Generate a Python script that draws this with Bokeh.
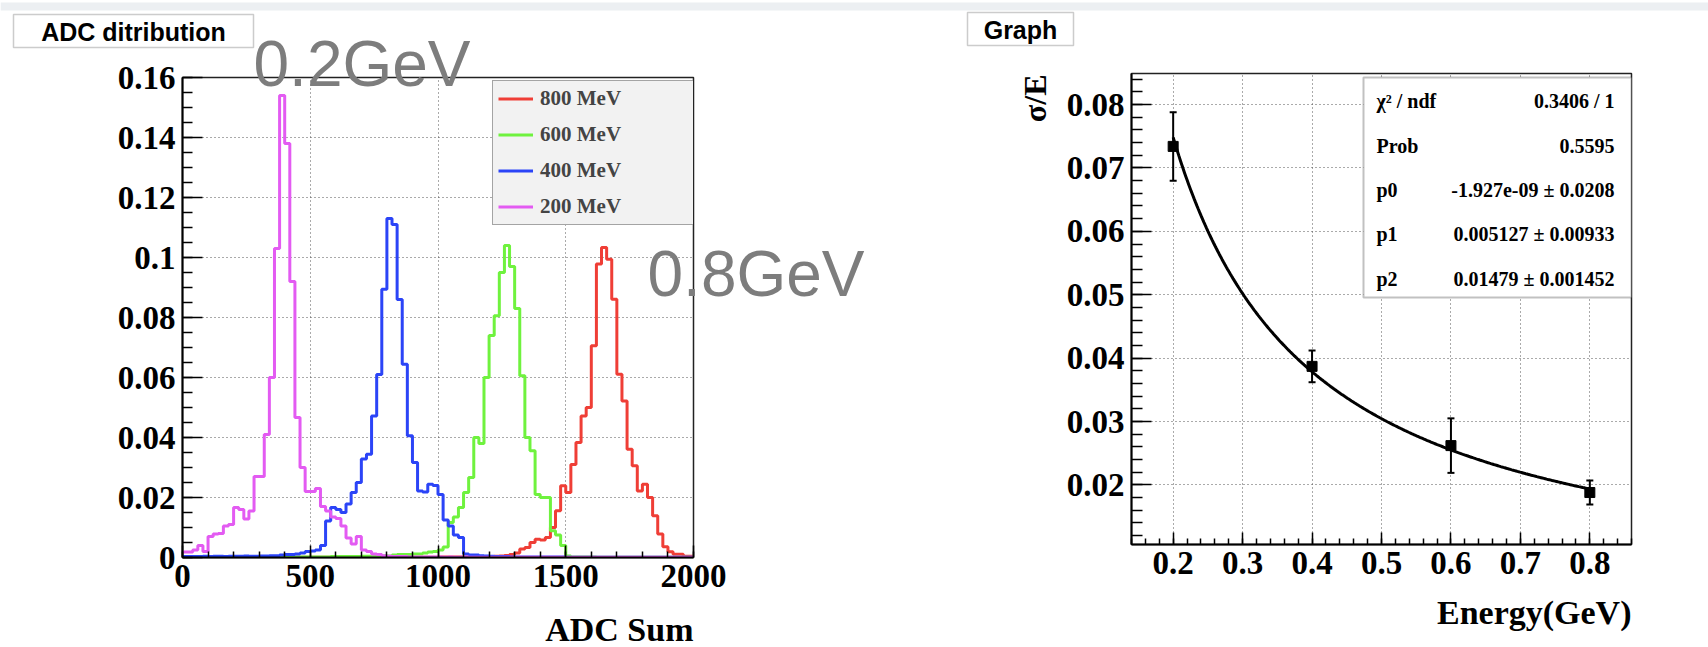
import numpy as np
from bokeh.plotting import figure
from bokeh.models import (Label, BoxAnnotation, Legend, LegendItem, FixedTicker,
                          Range1d, GridBox)
from bokeh.embed import file_html
from bokeh.resources import INLINE

# ---------------- data: left panel (normalised ADC histograms, 100 bins of 20) ----
adc_edges = list(range(0, 2001, 20))

h200 = [0.0018, 0.0018, 0.0025, 0.0040, 0.0020, 0.0070, 0.0078, 0.0080, 0.0105, 0.0110,
        0.0167, 0.0160, 0.0128, 0.0155, 0.0270, 0.0270, 0.0410, 0.0600, 0.1030, 0.1540,
        0.1380, 0.0920, 0.0467, 0.0300, 0.0220, 0.0220, 0.0230, 0.0170, 0.0155, 0.0135,
        0.0130, 0.0105, 0.0065, 0.0045, 0.0070, 0.0025, 0.0020, 0.0012, 0.0010, 0.0006,
        0.0004, 0.0003, 0.0003, 0.0003, 0.0002, 0.0002, 0.0002, 0.0002, 0.0002, 0.0002,
        0.0002, 0.0001, 0.0002, 0.0001, 0.0001, 0.0002, 0.0001, 0.0001, 0.0001, 0.0001,
        0.0001, 0.0001, 0.0001, 0.0001, 0.0001, 0.0001, 0.0001, 0.0001, 0.0001, 0.0001,
        0.0001, 0.0001, 0.0001, 0.0001, 0.0001, 0.0001, 0.0001, 0.0001, 0.0001, 0.0001,
        0.0001, 0.0001, 0.0001, 0.0001, 0.0001, 0.0001, 0.0001, 0.0001, 0.0001, 0.0001,
        0.0001, 0.0001, 0.0001, 0.0001, 0.0001, 0.0001, 0.0001, 0.0001, 0.0001, 0.0001]

h400 = [0.0003, 0.0003, 0.0003, 0.0003, 0.0004, 0.0003, 0.0004, 0.0004, 0.0003, 0.0004,
        0.0004, 0.0004, 0.0005, 0.0004, 0.0004, 0.0005, 0.0005, 0.0006, 0.0006, 0.0008,
        0.0010, 0.0010, 0.0012, 0.0015, 0.0020, 0.0022, 0.0025, 0.0040, 0.0122, 0.0167,
        0.0160, 0.0150, 0.0178, 0.0217, 0.0250, 0.0328, 0.0344, 0.0472, 0.0610, 0.0894,
        0.1130, 0.1110, 0.0860, 0.0644, 0.0406, 0.0317, 0.0222, 0.0218, 0.0244, 0.0240,
        0.0210, 0.0125, 0.0105, 0.0075, 0.0067, 0.0012, 0.0008, 0.0008, 0.0006, 0.0005,
        0.0004, 0.0003, 0.0003, 0.0003, 0.0002, 0.0002, 0.0002, 0.0002, 0.0002, 0.0002,
        0.0002, 0.0002, 0.0002, 0.0002, 0.0002, 0.0001, 0.0001, 0.0001, 0.0001, 0.0001,
        0.0001, 0.0001, 0.0001, 0.0001, 0.0001, 0.0001, 0.0001, 0.0001, 0.0001, 0.0001,
        0.0001, 0.0001, 0.0001, 0.0001, 0.0001, 0.0001, 0.0001, 0.0001, 0.0001, 0.0001]

h600 = [0.0001, 0.0001, 0.0001, 0.0001, 0.0001, 0.0001, 0.0001, 0.0001, 0.0001, 0.0001,
        0.0001, 0.0001, 0.0001, 0.0001, 0.0001, 0.0001, 0.0001, 0.0001, 0.0001, 0.0002,
        0.0002, 0.0002, 0.0002, 0.0002, 0.0002, 0.0002, 0.0002, 0.0002, 0.0002, 0.0003,
        0.0003, 0.0003, 0.0003, 0.0003, 0.0003, 0.0004, 0.0004, 0.0004, 0.0005, 0.0005,
        0.0005, 0.0008, 0.0010, 0.0010, 0.0010, 0.0012, 0.0012, 0.0015, 0.0018, 0.0020,
        0.0025, 0.0035, 0.0117, 0.0135, 0.0167, 0.0217, 0.0267, 0.0400, 0.0380, 0.0600,
        0.0740, 0.0806, 0.0950, 0.1040, 0.0970, 0.0830, 0.0606, 0.0400, 0.0356, 0.0210,
        0.0200, 0.0200, 0.0089, 0.0075, 0.0040, 0.0005, 0.0002, 0.0002, 0.0002, 0.0002,
        0.0002, 0.0001, 0.0001, 0.0001, 0.0001, 0.0001, 0.0001, 0.0001, 0.0001, 0.0001,
        0.0001, 0.0001, 0.0001, 0.0001, 0.0001, 0.0001, 0.0001, 0.0001, 0.0001, 0.0001]

h800 = [0.0001, 0.0001, 0.0001, 0.0001, 0.0001, 0.0001, 0.0001, 0.0001, 0.0001, 0.0001,
        0.0001, 0.0001, 0.0001, 0.0001, 0.0001, 0.0001, 0.0001, 0.0001, 0.0001, 0.0001,
        0.0001, 0.0001, 0.0001, 0.0001, 0.0001, 0.0001, 0.0001, 0.0001, 0.0001, 0.0001,
        0.0001, 0.0001, 0.0001, 0.0001, 0.0001, 0.0001, 0.0001, 0.0001, 0.0001, 0.0001,
        0.0001, 0.0001, 0.0001, 0.0001, 0.0001, 0.0001, 0.0001, 0.0001, 0.0001, 0.0001,
        0.0002, 0.0002, 0.0002, 0.0002, 0.0002, 0.0002, 0.0002, 0.0002, 0.0002, 0.0002,
        0.0003, 0.0004, 0.0005, 0.0007, 0.0010, 0.0015, 0.0028, 0.0033, 0.0050, 0.0061,
        0.0058, 0.0067, 0.0100, 0.0156, 0.0239, 0.0217, 0.0310, 0.0383, 0.0472, 0.0500,
        0.0706, 0.0978, 0.1033, 0.0994, 0.0861, 0.0611, 0.0522, 0.0361, 0.0306, 0.0222,
        0.0244, 0.0200, 0.0139, 0.0078, 0.0036, 0.0019, 0.0011, 0.0011, 0.0004, 0.0004]

legend_labels = ["800 MeV", "600 MeV", "400 MeV", "200 MeV"]
hist_colors = ["#ef3e36", "#6ff23e", "#2b44f7", "#e35bf2"]

left_xticks = [0, 500, 1000, 1500, 2000]
left_xtick_labels = ["0", "500", "1000", "1500", "2000"]
left_yticks = [0, 0.02, 0.04, 0.06, 0.08, 0.1, 0.12, 0.14, 0.16]
left_ytick_labels = ["0", "0.02", "0.04", "0.06", "0.08", "0.1", "0.12", "0.14", "0.16"]

# ---------------- data: right panel (resolution graph) ----------------------------
energy_gev = [0.2, 0.4, 0.6, 0.8]
sigma_over_e = [0.0734, 0.0387, 0.0262, 0.0188]
sigma_err = [0.0054, 0.0025, 0.0043, 0.0019]
fit_p0, fit_p1, fit_p2 = -1.927e-09, 0.005127, 0.01479
stat_names = ["\u03c7\u00b2 / ndf", "Prob", "p0", "p1", "p2"]
stat_values = ["0.3406 / 1", "0.5595", "-1.927e-09 \u00b1 0.0208",
               "0.005127 \u00b1 0.00933", "0.01479 \u00b1 0.001452"]

right_xticks = [0.2, 0.3, 0.4, 0.5, 0.6, 0.7, 0.8]
right_xtick_labels = ["0.2", "0.3", "0.4", "0.5", "0.6", "0.7", "0.8"]
right_yticks = [0.02, 0.03, 0.04, 0.05, 0.06, 0.07, 0.08]
right_ytick_labels = ["0.02", "0.03", "0.04", "0.05", "0.06", "0.07", "0.08"]

SERIF = "Liberation Serif"
SANS = "Liberation Sans"
PAGE_W, PAGE_H = 1708, 647


def style_axes(p, xt, xl, yt, yl, xminor, yminor, ymaj_in, ymin_in, xmaj_in, xmin_in):
    p.xaxis.ticker = FixedTicker(ticks=xt, minor_ticks=xminor)
    p.yaxis.ticker = FixedTicker(ticks=yt, minor_ticks=yminor)
    p.xaxis.major_label_overrides = dict(zip(xt, xl))
    p.yaxis.major_label_overrides = dict(zip(yt, yl))
    for ax, mi, ni in ((p.xaxis[0], xmaj_in, xmin_in), (p.yaxis[0], ymaj_in, ymin_in)):
        ax.axis_line_color = "black"
        ax.axis_line_width = 2
        ax.major_tick_line_color = "black"
        ax.minor_tick_line_color = "black"
        ax.major_tick_line_width = 1.5
        ax.minor_tick_line_width = 1.5
        ax.major_tick_out = 0
        ax.minor_tick_out = 0
        ax.major_tick_in = mi
        ax.minor_tick_in = ni
        ax.major_label_text_font = SERIF
        ax.major_label_text_font_style = "bold"
        ax.major_label_text_font_size = "33px"
        ax.major_label_text_color = "black"
        ax.major_label_standoff = 7
    for g in (p.xgrid[0], p.ygrid[0]):
        g.grid_line_color = "#555555"
        g.grid_line_dash = "1 3"
        g.grid_line_width = 1
    p.outline_line_color = "#222222"
    p.outline_line_width = 1.5
    p.background_fill_color = "white"
    p.border_fill_color = "white"


def no_align(p):
    if "frame_align" in p.properties():
        p.frame_align = False


# ================= LEFT FIGURE =================
L_left, L_w, L_top, L_h = 182, 511, 77, 480
left = figure(output_backend="svg", toolbar_location=None,
              frame_width=L_w, frame_height=L_h,
              min_border_left=L_left, min_border_right=960 - L_left - L_w,
              min_border_top=L_top, min_border_bottom=PAGE_H - L_top - L_h,
              x_range=Range1d(0, 2000), y_range=Range1d(0, 0.16))
no_align(left)

style_axes(left, left_xticks, left_xtick_labels, left_yticks, left_ytick_labels,
           list(range(0, 2001, 100)), [i * 0.005 for i in range(33)],
           20, 10, 12, 6)

series = [h800, h600, h400, h200]
renderers = []
for vals, col in zip(series, hist_colors):
    r = left.step(x=adc_edges, y=vals + [vals[-1]], mode="after",
                  line_color=col, line_width=3)
    renderers.append(r)

legend = Legend(items=[LegendItem(label=lab, renderers=[r])
                       for lab, r in zip(legend_labels, renderers)],
                location=(310, 332))
legend.background_fill_color = "#f2f2f2"
legend.background_fill_alpha = 1.0
legend.border_line_color = "#555555"
legend.border_line_width = 1.5
legend.label_text_font = SERIF
legend.label_text_font_style = "bold"
legend.label_text_font_size = "21px"
legend.glyph_width = 35
legend.glyph_height = 25
legend.label_height = 25
legend.label_width = 151
legend.label_standoff = 7
legend.spacing = 11
legend.padding = 5
legend.margin = 0
left.add_layout(legend)

# ================= RIGHT FIGURE =================
R_off = 960
R_left, R_w, R_top, R_h = 171, 500, 73, 471
R_y0, R_y1 = 0.0106, 0.0849
right = figure(output_backend="svg", toolbar_location=None,
               frame_width=R_w, frame_height=R_h,
               min_border_left=R_left, min_border_right=748 - R_left - R_w,
               min_border_top=R_top, min_border_bottom=PAGE_H - R_top - R_h,
               x_range=Range1d(0.14, 0.86), y_range=Range1d(R_y0, R_y1))
no_align(right)

style_axes(right, right_xticks, right_xtick_labels, right_yticks, right_ytick_labels,
           [0.14 + i * 0.02 for i in range(37)], [0.012 + i * 0.002 for i in range(37)],
           20, 11, 12, 6)

E_fit = np.linspace(energy_gev[0], energy_gev[-1], 300)
fit_curve = np.sqrt(fit_p0 ** 2 + fit_p1 ** 2 / E_fit + fit_p2 ** 2 / E_fit ** 2)
right.line(E_fit, fit_curve, line_color="black", line_width=3)

lo = [v - e for v, e in zip(sigma_over_e, sigma_err)]
hi = [v + e for v, e in zip(sigma_over_e, sigma_err)]
right.segment(x0=energy_gev, y0=lo, x1=energy_gev, y1=hi, line_color="black", line_width=2)
right.scatter(energy_gev, lo, marker="dash", size=7, line_color="black", line_width=2)
right.scatter(energy_gev, hi, marker="dash", size=7, line_color="black", line_width=2)
right.scatter(energy_gev, sigma_over_e, marker="square", size=10,
              fill_color="black", line_color="black")


def rc(px):
    return px - R_off


# statistics box (inside the frame of the right plot, canvas pixels)
right.add_layout(BoxAnnotation(left=rc(1363), right=R_left + R_w, top=77, bottom=297,
                               left_units="canvas", right_units="canvas",
                               top_units="canvas", bottom_units="canvas",
                               fill_color="white", fill_alpha=1,
                               line_color="#333333", line_width=2))
row_y = [100, 145, 189, 233, 278]
for name, val, yy in zip(stat_names, stat_values, row_y):
    right.add_layout(Label(x=rc(1376), y=yy, x_units="canvas", y_units="canvas",
                           text=name, text_align="left", text_baseline="middle",
                           text_font=SERIF, text_font_style="bold",
                           text_font_size="20px", text_color="black"))
    right.add_layout(Label(x=rc(1614), y=yy, x_units="canvas", y_units="canvas",
                           text=val, text_align="right", text_baseline="middle",
                           text_font=SERIF, text_font_style="bold",
                           text_font_size="20px", text_color="black"))

# ================= OVERLAY (page-pixel coordinates, transparent) =================
ov = figure(output_backend="svg", toolbar_location=None, width=PAGE_W, height=PAGE_H,
            x_range=Range1d(0, PAGE_W), y_range=Range1d(PAGE_H, 0),
            x_axis_type=None, y_axis_type=None, min_border=0)
no_align(ov)
ov.outline_line_color = None
ov.background_fill_alpha = 0
ov.border_fill_alpha = 0
ov.xgrid.visible = False
ov.ygrid.visible = False


def ov_box(l, r, t, b, **kw):
    ov.add_layout(BoxAnnotation(left=l, right=r, top=t, bottom=b, **kw))


def ov_label(x, y, text, **kw):
    ov.add_layout(Label(x=x, y=y, text=text, **kw))


ov_box(0, PAGE_W, 2, 10, fill_color="#eceff2", fill_alpha=1, line_alpha=0)
ov_box(13, 253, 14, 47, fill_color="white", fill_alpha=1,
       line_color="#555555", line_width=1.5)
ov_label(133, 31, "ADC ditribution", text_align="center", text_baseline="middle",
         text_font=SANS, text_font_style="bold", text_font_size="25px",
         text_color="black")
ov_box(967, 1073, 12, 45, fill_color="white", fill_alpha=1,
       line_color="#555555", line_width=1.5)
ov_label(1020, 29, "Graph", text_align="center", text_baseline="middle",
         text_font=SANS, text_font_style="bold", text_font_size="25px",
         text_color="black")
ov_label(253, 63, "0.2GeV", text_align="left", text_baseline="alphabetic",
         text_font=SANS, text_font_size="64px", text_color="#7d7d7d")
ov_label(647, 273, "0.8GeV", text_align="left", text_baseline="alphabetic",
         text_font=SANS, text_font_size="64px", text_color="#7d7d7d")
ov_label(L_left + L_w, 629, "ADC Sum", text_align="right", text_baseline="middle",
         text_font=SERIF, text_font_style="bold", text_font_size="34px",
         text_color="black")
ov_label(R_off + R_left + R_w, 612, "Energy(GeV)", text_align="right",
         text_baseline="middle", text_font=SERIF, text_font_style="bold",
         text_font_size="34px", text_color="black")
ov_label(1034, 74, "\u03c3/E", angle=np.pi / 2, text_align="right",
         text_baseline="middle", text_font=SERIF, text_font_style="bold",
         text_font_size="32px", text_color="black")

layout = GridBox(children=[(left, 0, 0), (right, 0, 1), (ov, 0, 0, 1, 2)], spacing=0)
open("out.html", "w").write(file_html(layout, INLINE))
